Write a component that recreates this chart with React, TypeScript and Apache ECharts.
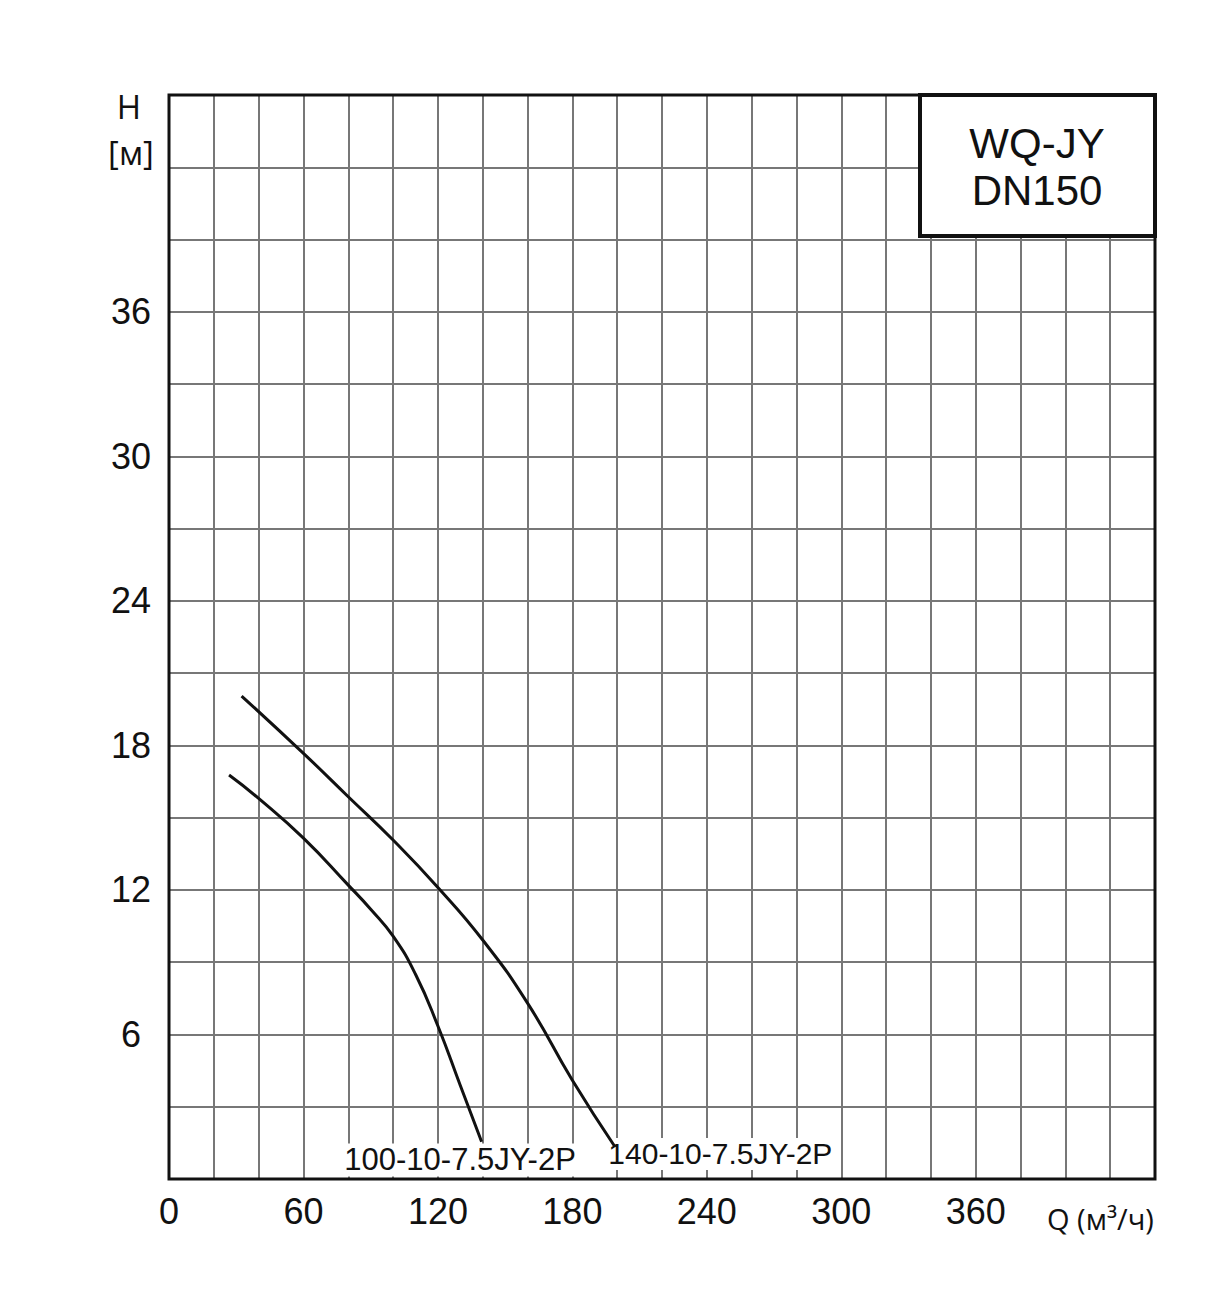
import React, { useEffect, useRef } from "react";
import * as echarts from "echarts";

// Pump curve 100-10-7.5JY-2P
const curveAQ = [26.8, 40, 60, 80, 90, 100, 110, 120, 130, 139.5];
const curveAH = [16.77, 15.8, 14.15, 12.2, 11.2, 10.08, 8.5, 6.35, 3.88, 1.55];
// Pump curve 140-10-7.5JY-2P
const curveBQ = [32.4, 60, 80, 100, 120, 140, 160, 180, 199];
const curveBH = [20.05, 17.67, 15.87, 14.07, 12.1, 9.92, 7.3, 4.1, 1.34];

const curveNames = ["100-10-7.5JY-2P", "140-10-7.5JY-2P"];
// label anchor points in data space
const labelAnchorQ = [129.9, 195.6];
const labelAnchorH = [0.79, 1.04];

const xLabelStep = 60;
const xLabelMax = 360;
const yLabelStep = 6;
const yLabelMax = 36;

const titleLines = ["WQ-JY", "DN150"];
const yAxisTitle = ["H", "[м]"];
const xAxisTitle = "Q (м³/ч)";

const FONT = "'Liberation Sans', Arial, sans-serif";

export default function App() {
  const ref = useRef<HTMLDivElement>(null);
  useEffect(() => {
    if (!ref.current) return;
    const chart = echarts.init(ref.current, undefined, { renderer: "svg" });
    const zip = (q: number[], h: number[]) => q.map((v, i) => [v, h[i]]);
    const mkSeries = (q: number[], h: number[], idx: number, align: string, fs: number) => ({
      type: "line",
      data: zip(q, h),
      smooth: 0.5,
      showSymbol: false,
      symbol: "none",
      lineStyle: { color: "#111", width: 3 },
      z: 5,
      markPoint: {
        symbol: "circle",
        symbolSize: 0,
        data: [
          {
            coord: [labelAnchorQ[idx], labelAnchorH[idx]],
            label: {
              show: true,
              position: "inside",
              formatter: curveNames[idx],
              align,
              verticalAlign: "middle",
              fontSize: fs,
              fontFamily: FONT,
              color: "#111",
              backgroundColor: "#fff",
              padding: [2, 1, 0, 1],
            },
          },
        ],
      },
    });
    chart.setOption({
      animation: false,
      backgroundColor: "#fff",
      grid: { left: 169, top: 95, width: 986, height: 1084, containLabel: false },
      xAxis: {
        type: "value",
        min: 0,
        max: 440,
        interval: 20,
        axisLine: { show: false },
        axisTick: { show: false },
        splitLine: { show: true, lineStyle: { color: "#777", width: 2 } },
        axisLabel: {
          fontSize: 36,
          fontFamily: FONT,
          color: "#111",
          margin: 14,
          showMaxLabel: true,
          formatter: (v: number) => (v % xLabelStep === 0 && v <= xLabelMax ? String(v) : ""),
        },
      },
      yAxis: {
        type: "value",
        min: 0,
        max: 45,
        interval: 3,
        axisLine: { show: false },
        axisTick: { show: false },
        splitLine: { show: true, lineStyle: { color: "#777", width: 2 } },
        axisLabel: {
          fontSize: 36,
          fontFamily: FONT,
          color: "#111",
          margin: 38,
          align: "center",
          formatter: (v: number) => (v % yLabelStep === 0 && v > 0 && v <= yLabelMax ? String(v) : ""),
        },
      },
      graphic: [
        {
          type: "rect",
          z: 100,
          shape: { x: 169, y: 95, width: 986, height: 1084 },
          style: { fill: "none", stroke: "#111", lineWidth: 3 },
        },
        {
          type: "rect",
          z: 101,
          shape: { x: 920, y: 95, width: 235, height: 141 },
          style: { fill: "#fff", stroke: "#111", lineWidth: 4 },
        },
        {
          type: "text",
          z: 102,
          x: 1037,
          y: 143,
          style: { text: titleLines[0], font: `42px ${FONT}`, fill: "#111", align: "center", verticalAlign: "middle" },
        },
        {
          type: "text",
          z: 102,
          x: 1037,
          y: 190,
          style: { text: titleLines[1], font: `42px ${FONT}`, fill: "#111", align: "center", verticalAlign: "middle" },
        },
        {
          type: "text",
          x: 129,
          y: 106,
          style: { text: yAxisTitle[0], font: `33px 'Open Sans', ${FONT}`, fill: "#111", align: "center", verticalAlign: "middle" },
        },
        {
          type: "text",
          x: 131,
          y: 152,
          style: { text: yAxisTitle[1], font: `33px 'Open Sans', ${FONT}`, fill: "#111", align: "center", verticalAlign: "middle" },
        },
        {
          type: "text",
          x: 1047,
          y: 1218,
          style: { text: xAxisTitle, font: `29px 'Open Sans', ${FONT}`, fill: "#111", align: "left", verticalAlign: "middle" },
        },
      ],
      series: [mkSeries(curveAQ, curveAH, 0, "center", 31), mkSeries(curveBQ, curveBH, 1, "left", 30)],
    });
    return () => chart.dispose();
  }, []);
  return <div ref={ref} style={{ position: "absolute", left: 0, top: 0, width: 1231, height: 1299 }} />;
}
